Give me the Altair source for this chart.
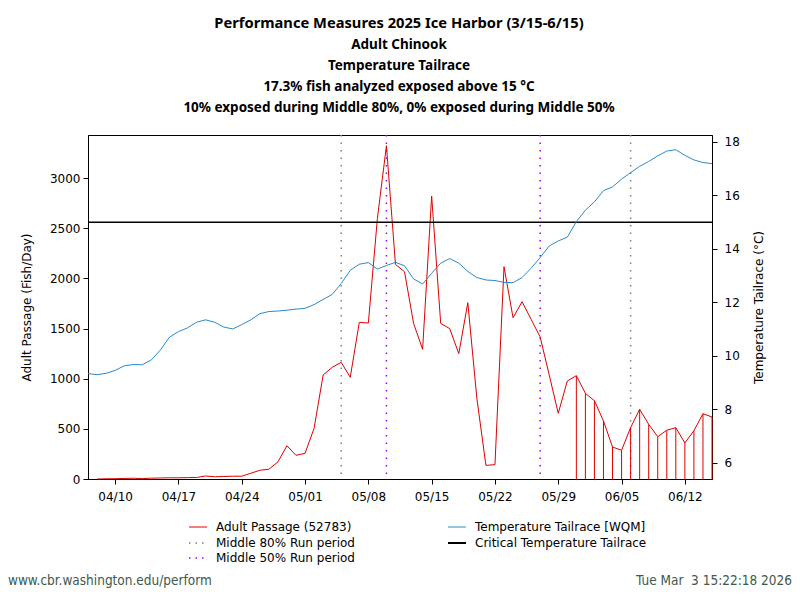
import altair as alt
import pandas as pd

# ---------------- data ----------------
temp_dates = pd.date_range("2025-04-07", "2025-06-15", freq="D").strftime("%Y-%m-%dT00:00:00").tolist()
temp_c = [9.34, 9.30, 9.35, 9.46, 9.63, 9.68, 9.67, 9.85, 10.22, 10.70,
          10.91, 11.05, 11.26, 11.35, 11.26, 11.08, 11.01, 11.17, 11.35, 11.58,
          11.66, 11.68, 11.71, 11.75, 11.78, 11.92, 12.11, 12.30, 12.71, 13.20,
          13.43, 13.49, 13.25, 13.38, 13.50, 13.37, 12.88, 12.69, 13.09, 13.47,
          13.64, 13.47, 13.16, 12.93, 12.84, 12.82, 12.75, 12.74, 12.93, 13.28,
          13.68, 14.11, 14.30, 14.44, 15.02, 15.45, 15.76, 16.18, 16.32, 16.61,
          16.85, 17.09, 17.27, 17.48, 17.66, 17.71, 17.50, 17.33, 17.23, 17.19]

pass_dates = temp_dates[1:]
passage = [0, 2, 3, 5, 8, 4, 8, 10, 12, 12,
           14, 15, 30, 22, 25, 28, 28, 57, 87, 97,
           170, 332, 236, 256, 505, 1037, 1113, 1163, 1014, 1562,
           1555, 2599, 3323, 2140, 2067, 1552, 1293, 2822, 1552, 1499,
           1250, 1758, 804, 136, 143, 2117, 1608, 1768, 1592, 1416,
           1037, 655, 977, 1030, 854, 781, 578, 319, 286, 512,
           695, 545, 422, 486, 512, 359, 482, 651, 618]

mid80_dates = ["2025-05-05T00:00:00", "2025-06-06T00:00:00"]
mid50_dates = ["2025-05-10T00:00:00", "2025-05-27T00:00:00"]
critical_temp = 15
tick_dates = ["04/10", "04/17", "04/24", "05/01", "05/08", "05/15", "05/22", "05/29", "06/05", "06/12"]

title_main = "Performance Measures 2025 Ice Harbor (3/15-6/15)"
title_lines = ["Adult Chinook",
               "Temperature Tailrace",
               "17.3% fish analyzed exposed above 15 \u00b0C",
               "10% exposed during Middle 80%, 0% exposed during Middle 50%"]

# ---------------- tables ----------------
df_t = pd.DataFrame({"date": temp_dates, "temp": temp_c})
df_p = pd.DataFrame({"date": pass_dates, "passage": passage})
df_p["temp"] = temp_c[1:]
df_p["zero"] = 0
df_drop = df_p[df_p["temp"] > critical_temp]
df_80 = pd.DataFrame({"date": mid80_dates})
df_50 = pd.DataFrame({"date": mid50_dates})

RED = "#dd0000"
BLUE = "#2a8acb"
PURPLE = "#a000ff"
GRAY = "#808080"
FONT = "DejaVu Sans"

tick_vals = [alt.DateTime(year=2025, month=int(s[:2]), date=int(s[3:])) for s in tick_dates]
xenc = alt.X("date:T",
             scale=alt.Scale(domain=[alt.DateTime(year=2025, month=4, date=7),
                                     alt.DateTime(year=2025, month=6, date=15)], nice=False),
             axis=alt.Axis(values=tick_vals, format="%m/%d", title=None, labelPadding=7,
                           labelOverlap=False, labelFlush=False))

yleft = alt.Scale(domain=[0, 3430], nice=False, zero=False)
yright = alt.Scale(domain=[5.40, 18.26], nice=False, zero=False)

left_axis = alt.Axis(values=[0, 500, 1000, 1500, 2000, 2500, 3000], format="d",
                     title="Adult Passage (Fish/Day)", labelPadding=3, titlePadding=16)
right_axis = alt.Axis(values=[6, 8, 10, 12, 14, 16, 18], format="d", title="Temperature Tailrace (\u00b0C)",
                      orient="right", labelPadding=7, titlePadding=14, titleAngle=270, titleBaseline="top")

passage_line = alt.Chart(df_p).mark_line(color=RED, strokeWidth=1).encode(
    x=xenc, y=alt.Y("passage:Q", scale=yleft, axis=left_axis))
drops = alt.Chart(df_drop).mark_rule(color=RED, strokeWidth=1).encode(
    x=xenc, y=alt.Y("passage:Q", scale=yleft), y2="zero:Q")
v80 = alt.Chart(df_80).mark_rule(color=GRAY, strokeWidth=1.5, strokeDash=[1.5, 6]).encode(x=xenc)
v50 = alt.Chart(df_50).mark_rule(color=PURPLE, strokeWidth=1.5, strokeDash=[1.5, 6]).encode(x=xenc)

left_group = alt.layer(v80, v50, drops, passage_line)

crit = alt.Chart(pd.DataFrame({"c": [critical_temp]})).mark_rule(color="black", strokeWidth=1.6).encode(
    y=alt.Y("c:Q", scale=yright, axis=right_axis))
temp_line = alt.Chart(df_t).mark_line(color=BLUE, strokeWidth=1).encode(
    x=xenc, y=alt.Y("temp:Q", scale=yright, axis=right_axis))
right_group = alt.layer(crit, temp_line)

one = pd.DataFrame({"a": [0]})
deco = []
deco.append(alt.Chart(one).mark_text(text=title_main, font="Noto Sans", fontWeight="bold",
                                     fontSize=14.7, align="center", baseline="alphabetic", color="black").encode(
    x=alt.value(311), y=alt.value(-107)))
deco.append(alt.Chart(one).mark_text(text=title_lines, lineHeight=21, font="Noto Sans", fontWeight="bold",
                                     fontSize=13.5, align="center", baseline="alphabetic", color="black").encode(
    x=alt.value(311), y=alt.value(-86)))

legend_items = [
    ("Adult Passage (52783)", RED, None, 1, 101, 392),
    ("Middle 80% Run period", GRAY, [1.5, 5], 1.5, 101, 408),
    ("Middle 50% Run period", PURPLE, [1.5, 5], 1.5, 101, 423),
    ("Temperature Tailrace [WQM]", BLUE, None, 1, 360, 392),
    ("Critical Temperature Tailrace", "black", None, 2, 360, 408),
]
for label, col, dash, sw, lx, ly in legend_items:
    mk = dict(color=col, strokeWidth=sw)
    if dash:
        mk["strokeDash"] = dash
    deco.append(alt.Chart(one).mark_rule(**mk).encode(
        x=alt.value(lx), x2=alt.value(lx + 18), y=alt.value(ly)))
    deco.append(alt.Chart(one).mark_text(text=label, font=FONT, fontSize=12, align="left",
                                         baseline="middle", color="black").encode(
        x=alt.value(lx + 27), y=alt.value(ly)))

FOOT = "#41594f"
deco.append(alt.Chart(one).mark_text(text="www.cbr.washington.edu/perform", font="DejaVu Sans Condensed",
                                     fontSize=13.5, align="left", baseline="middle", color=FOOT).encode(
    x=alt.value(-80), y=alt.value(446)))
deco.append(alt.Chart(one).mark_text(text="Tue Mar \u00a03 15:22:18 2026", font="DejaVu Sans Condensed",
                                     fontSize=13.5, align="right", baseline="middle", color=FOOT).encode(
    x=alt.value(704), y=alt.value(446)))

chart = alt.layer(left_group, right_group, *deco).resolve_scale(y="independent").properties(
    width=624, height=344,
    autosize=alt.AutoSizeParams(type="none"),
    padding={"left": 80, "top": 127, "right": 80, "bottom": 110},
    background="white",
).configure_view(stroke="black", strokeWidth=1).configure_axis(
    grid=False, domainColor="black", tickColor="black", labelColor="black", titleColor="black",
    labelFont=FONT, labelFontSize=12, titleFont=FONT, titleFontSize=12, titleFontWeight="normal",
    tickSize=5, domainWidth=1, tickWidth=1,
)

chart.save("out.html", embed_options={"renderer": "svg", "actions": False})
